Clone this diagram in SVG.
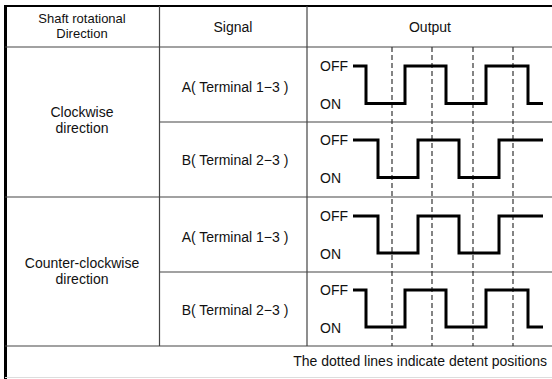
<svg xmlns="http://www.w3.org/2000/svg" width="552" height="379" viewBox="0 0 552 379">
<style>
text{font-family:"Liberation Sans",Arial,sans-serif;font-size:14px;fill:#111}
.c{text-anchor:middle}
.grid{stroke:#444;stroke-width:1.2;fill:none}
.det{stroke:#333;stroke-width:1.2;stroke-dasharray:5,3;fill:none}
.wave{stroke:#000;stroke-width:3;fill:none;stroke-linejoin:miter}
</style>
<rect width="552" height="379" fill="#fff"/>
<g id="table">
<line x1="4" y1="6" x2="552" y2="6" stroke="#000" stroke-width="2"/>
<line x1="5.5" y1="5" x2="5.5" y2="379" stroke="#000" stroke-width="3"/>
<line x1="5" y1="47" x2="552" y2="47" class="grid"/>
<line x1="159" y1="122" x2="552" y2="122" class="grid"/>
<line x1="5" y1="197" x2="552" y2="197" class="grid"/>
<line x1="159" y1="272" x2="552" y2="272" class="grid"/>
<line x1="5" y1="346" x2="552" y2="346" class="grid"/>
<line x1="159.5" y1="6" x2="159.5" y2="346" class="grid"/>
<line x1="307" y1="6" x2="307" y2="346" class="grid"/>
<line x1="5" y1="377.5" x2="552" y2="377.5" stroke="#ddd" stroke-width="1"/>
</g>
<g id="header">
<text class="c" x="82" y="23" style="font-size:13px">Shaft rotational</text>
<text class="c" x="82" y="37.5" style="font-size:13px">Direction</text>
<text class="c" x="233" y="32">Signal</text>
<text class="c" x="430" y="32">Output</text>
</g>
<g id="cw">
<text class="c" x="82" y="117">Clockwise</text>
<text class="c" x="82" y="133">direction</text>
</g>
<g id="ccw">
<text class="c" x="82" y="268">Counter-clockwise</text>
<text class="c" x="82" y="284">direction</text>
</g>
<g id="signals">
<text class="c" x="235" y="92">A( Terminal 1−3 )</text>
<text class="c" x="235" y="165">B( Terminal 2−3 )</text>
<text class="c" x="235" y="242">A( Terminal 1−3 )</text>
<text class="c" x="235" y="315">B( Terminal 2−3 )</text>
</g>
<g id="levels">
<text x="320" y="71">OFF</text><text x="320" y="109">ON</text>
<text x="320" y="145">OFF</text><text x="320" y="183">ON</text>
<text x="320" y="221">OFF</text><text x="320" y="259">ON</text>
<text x="320" y="295">OFF</text><text x="320" y="333">ON</text>
</g>
<g id="detents">
<line x1="392" y1="47" x2="392" y2="346" class="det"/>
<line x1="432" y1="47" x2="432" y2="346" class="det"/>
<line x1="473" y1="47" x2="473" y2="346" class="det"/>
<line x1="513" y1="47" x2="513" y2="346" class="det"/>
</g>
<g id="waves">
<path class="wave" d="M353 66H366V103.5H405V66H446V103.5H486V66H528V103.5H543"/>
<path class="wave" d="M353 140H378V177.5H418V140H459V177.5H499V140H543"/>
<path class="wave" d="M353 216H378V253H418V216H459V253H499V216H543"/>
<path class="wave" d="M353 290H366V327H405V290H446V327H486V290H528V327H543"/>
</g>
<g id="footer">
<text x="547" y="366" text-anchor="end">The dotted lines indicate detent positions</text>
</g>
</svg>
